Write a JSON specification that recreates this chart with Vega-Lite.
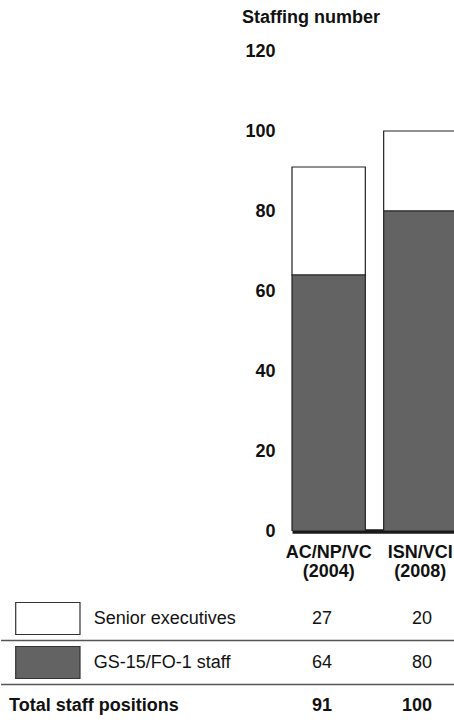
{
  "$schema": "https://vega.github.io/schema/vega-lite/v6.json",
  "padding": {"top": 8, "left": 0, "right": 0, "bottom": 0},
  "spacing": 16.5,
  "config": {
    "view": {"stroke": null},
    "font": "Liberation Sans",
    "text": {"font": "Liberation Sans", "color": "#111"}
  },
  "datasets": {
    "staff": [
      {"period": "AC/NP/VC (2004)", "series": "Senior executives", "value": 27},
      {"period": "AC/NP/VC (2004)", "series": "GS-15/FO-1 staff", "value": 64},
      {"period": "ISN/VCI (2008)", "series": "Senior executives", "value": 20},
      {"period": "ISN/VCI (2008)", "series": "GS-15/FO-1 staff", "value": 80}
    ],
    "totals": [
      {"period": "AC/NP/VC (2004)", "series": "Total staff positions", "value": 91},
      {"period": "ISN/VCI (2008)", "series": "Total staff positions", "value": 100}
    ],
    "legend": [
      {"series": "Senior executives"},
      {"series": "GS-15/FO-1 staff"}
    ]
  },
  "vconcat": [
    {
      "width": 454,
      "height": 480,
      "title": {
        "text": "Staffing number",
        "anchor": "start",
        "dx": 241,
        "fontSize": 18,
        "fontWeight": "bold",
        "color": "#111",
        "offset": 15.5,
        "font": "Liberation Sans"
      },
      "data": {"name": "staff"},
      "mark": {"type": "bar", "stroke": "#222", "strokeWidth": 1.2, "clip": true},
      "encoding": {
        "x": {
          "field": "period",
          "type": "nominal",
          "sort": null,
          "scale": {
            "domain": ["AC/NP/VC (2004)", "ISN/VCI (2008)"],
            "range": [291, 456],
            "paddingInner": 0.2,
            "paddingOuter": 0
          },
          "axis": {
            "title": null,
            "domain": true,
            "domainColor": "#1a1a1a",
            "domainWidth": 4.5,
            "ticks": false,
            "tickSize": 0,
            "labelExpr": "split(datum.label, ' ')",
            "labelAngle": 0,
            "labelFont": "Liberation Sans",
            "labelFontSize": 18,
            "labelFontWeight": "bold",
            "labelColor": "#111",
            "labelPadding": 12,
            "labelLineHeight": 19
          }
        },
        "y": {
          "field": "value",
          "type": "quantitative",
          "stack": "zero",
          "scale": {"domain": [0, 120], "nice": false},
          "axis": {
            "title": null,
            "values": [0, 20, 40, 60, 80, 100, 120],
            "offset": -274,
            "domain": false,
            "ticks": false,
            "tickSize": 0,
            "grid": false,
            "labelPadding": 0,
            "labelFont": "Liberation Sans",
            "labelFontSize": 18,
            "labelFontWeight": "bold",
            "labelColor": "#111"
          }
        },
        "fill": {
          "field": "series",
          "type": "nominal",
          "scale": {
            "domain": ["Senior executives", "GS-15/FO-1 staff"],
            "range": ["#ffffff", "#636363"]
          },
          "legend": null
        },
        "order": {"field": "series", "sort": "ascending"}
      }
    },
    {
      "width": 454,
      "height": 132,
      "resolve": {"scale": {"x": "independent"}},
      "layer": [
        {
          "data": {"name": "legend"},
          "mark": {"type": "rule", "stroke": "#555", "strokeWidth": 1.3, "yOffset": 6},
          "encoding": {
            "y": {
              "field": "series",
              "type": "nominal",
              "bandPosition": 1,
              "scale": {
                "domain": ["Senior executives", "GS-15/FO-1 staff", "Total staff positions"],
                "paddingInner": 0.2727,
                "paddingOuter": 0.1364
              },
              "axis": null
            }
          }
        },
        {
          "data": {"name": "legend"},
          "mark": {"type": "rect", "stroke": "#333", "strokeWidth": 1.2},
          "encoding": {
            "x": {
              "datum": "key",
              "type": "nominal",
              "scale": {"type": "band", "domain": ["key"], "range": [14.7, 79], "paddingInner": 0, "paddingOuter": 0},
              "axis": null
            },
            "y": {"field": "series", "type": "nominal", "axis": null},
            "fill": {"field": "series", "type": "nominal", "legend": null}
          }
        },
        {
          "data": {"name": "legend"},
          "mark": {"type": "text", "align": "left", "baseline": "middle", "fontSize": 18},
          "encoding": {
            "x": {
              "datum": "label",
              "type": "nominal",
              "bandPosition": 0,
              "scale": {"type": "band", "domain": ["label"], "range": [92.7, 290], "paddingInner": 0, "paddingOuter": 0},
              "axis": null
            },
            "y": {"field": "series", "type": "nominal", "axis": null},
            "text": {"field": "series"}
          }
        },
        {
          "data": {"name": "totals"},
          "transform": [{"filter": "datum.period === 'AC/NP/VC (2004)'"}],
          "mark": {"type": "text", "align": "left", "baseline": "middle", "fontSize": 18, "fontWeight": "bold"},
          "encoding": {
            "x": {
              "datum": "label",
              "type": "nominal",
              "bandPosition": 0,
              "scale": {"type": "band", "domain": ["label"], "range": [8, 290], "paddingInner": 0, "paddingOuter": 0},
              "axis": null
            },
            "y": {"field": "series", "type": "nominal", "axis": null},
            "text": {"field": "series"}
          }
        },
        {
          "data": {"name": "staff"},
          "mark": {"type": "text", "align": "right", "baseline": "middle", "fontSize": 18},
          "encoding": {
            "x": {
              "field": "period",
              "type": "nominal",
              "sort": null,
              "scale": {"type": "band", "domain": ["AC/NP/VC (2004)", "ISN/VCI (2008)"], "range": [281, 481], "paddingInner": 0, "paddingOuter": 0},
              "axis": null
            },
            "y": {"field": "series", "type": "nominal", "axis": null},
            "text": {"field": "value", "type": "quantitative"}
          }
        },
        {
          "data": {"name": "totals"},
          "mark": {"type": "text", "align": "right", "baseline": "middle", "fontSize": 18, "fontWeight": "bold"},
          "encoding": {
            "x": {
              "field": "period",
              "type": "nominal",
              "sort": null,
              "scale": {"type": "band", "domain": ["AC/NP/VC (2004)", "ISN/VCI (2008)"], "range": [281, 481], "paddingInner": 0, "paddingOuter": 0},
              "axis": null
            },
            "y": {"field": "series", "type": "nominal", "axis": null},
            "text": {"field": "value", "type": "quantitative"}
          }
        }
      ]
    }
  ]
}
